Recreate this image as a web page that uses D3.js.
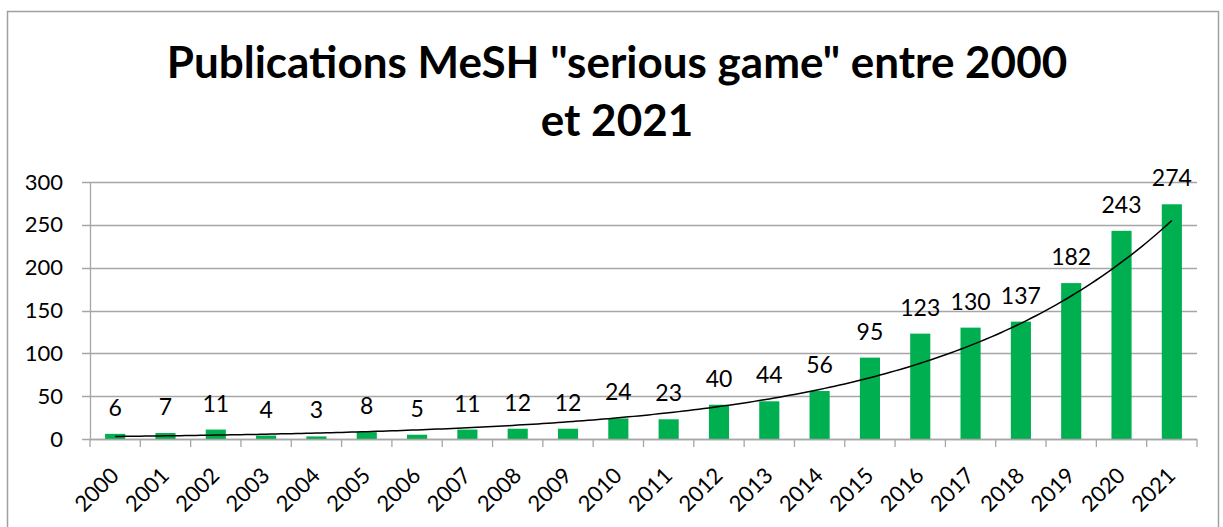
<!DOCTYPE html>
<html>
<head>
<meta charset="utf-8">
<script src="https://cdn.jsdelivr.net/npm/d3@7"></script>
<style>
  body { margin: 0; background: #fff; }
  text { font-family: Lato, "Open Sans", sans-serif; }
</style>
</head>
<body>
<div id="chart"></div>
<script>
// Data
var years = ["2000", "2001", "2002", "2003", "2004", "2005", "2006", "2007", "2008", "2009", "2010",
  "2011", "2012", "2013", "2014", "2015", "2016", "2017", "2018", "2019", "2020", "2021"];
var publications = [6, 7, 11, 4, 3, 8, 5, 11, 12, 12, 24, 23, 40, 44, 56, 95, 123, 130, 137, 182, 243, 274];
var yTicks = [0, 50, 100, 150, 200, 250, 300];
var titleLines = ["Publications MeSH \"serious game\" entre 2000", "et 2021"];

var W = 1223, H = 527;
var margin = { top: 182, right: 26, bottom: 88, left: 90 };
var width = W - margin.left - margin.right;
var height = H - margin.top - margin.bottom;

var svg = d3.select("#chart").append("svg")
  .attr("width", W)
  .attr("height", H);

// chart frame
svg.append("rect")
  .attr("x", 7.5).attr("y", 11.5)
  .attr("width", 1211).attr("height", 540)
  .attr("fill", "none")
  .attr("stroke", "#a0a0a0")
  .attr("stroke-width", 1.5);

// title
svg.append("text")
  .attr("text-anchor", "middle")
  .style("font-weight", "bold")
  .style("font-size", "44px")
  .selectAll("tspan")
  .data(titleLines)
  .enter()
  .append("tspan")
  .attr("x", 617)
  .attr("y", function (d, i) { return 78 + i * 58; })
  .text(function (d) { return d; });

var g = svg.append("g")
  .attr("transform", "translate(" + margin.left + "," + margin.top + ")");

var x = d3.scaleBand().domain(years).range([0, width]).paddingInner(0.6).paddingOuter(0.3);
var xb = d3.scaleBand().domain(years).range([0, width]);
var y = d3.scaleLinear().domain([0, 300]).range([height, 0]);

// gridlines
g.append("g")
  .selectAll("line")
  .data(yTicks)
  .enter()
  .append("line")
  .attr("x1", -8)
  .attr("x2", width)
  .attr("y1", function (d) { return Math.round(y(d)) + 0.5; })
  .attr("y2", function (d) { return Math.round(y(d)) + 0.5; })
  .attr("stroke", "#a6a6a6")
  .attr("stroke-width", 1.3);

// y axis
var yAxis = g.append("g")
  .call(d3.axisLeft(y).tickValues(yTicks).tickSize(0).tickPadding(27));
yAxis.select(".domain").attr("stroke", "#a6a6a6").attr("stroke-width", 1.3);
yAxis.selectAll("text")
  .style("font-size", "22px")
  .style("font-family", "Lato, 'Open Sans', sans-serif")
  .attr("fill", "#000");

// bars
g.selectAll(".bar")
  .data(publications)
  .enter()
  .append("rect")
  .attr("class", "bar")
  .attr("x", function (d, i) { return x(years[i]); })
  .attr("width", x.bandwidth())
  .attr("y", function (d) { return y(d); })
  .attr("height", function (d) { return height - y(d); })
  .attr("fill", "#00b050");

// x axis with ticks at category boundaries
var xAxisG = g.append("g").attr("transform", "translate(0," + height + ")");
xAxisG.append("line")
  .attr("x1", 0).attr("x2", width)
  .attr("y1", 0.5).attr("y2", 0.5)
  .attr("stroke", "#a6a6a6").attr("stroke-width", 1.3);
xAxisG.selectAll(".tick")
  .data(years.concat(["end"]))
  .enter()
  .append("line")
  .attr("x1", function (d, i) { return i < years.length ? xb(d) : width; })
  .attr("x2", function (d, i) { return i < years.length ? xb(d) : width; })
  .attr("y1", 0).attr("y2", 8)
  .attr("stroke", "#a6a6a6").attr("stroke-width", 1.3);
xAxisG.selectAll(".xlabel")
  .data(years)
  .enter()
  .append("text")
  .attr("class", "xlabel")
  .attr("text-anchor", "end")
  .attr("transform", function (d) {
    return "translate(" + (xb(d) + xb.bandwidth() / 2 + 5) + ",38) rotate(-45)";
  })
  .style("font-size", "22px")
  .text(function (d) { return d; });

// value labels
g.selectAll(".vlabel")
  .data(publications)
  .enter()
  .append("text")
  .attr("class", "vlabel")
  .attr("text-anchor", "middle")
  .attr("x", function (d, i) { return x(years[i]) + x.bandwidth() / 2; })
  .attr("y", function (d) { return y(d) - 18; })
  .style("font-size", "23px")
  .text(function (d) { return d; });

// exponential trendline (least squares on log values, as Excel does)
var n = publications.length;
var xs = d3.range(n);
var ly = publications.map(function (v) { return Math.log(v); });
var mx = d3.mean(xs), my = d3.mean(ly);
var b = d3.sum(xs, function (xi, i) { return (xi - mx) * (ly[i] - my); }) /
  d3.sum(xs, function (xi) { return (xi - mx) * (xi - mx); });
var a = my - b * mx;
var trend = d3.range(0, n - 1 + 0.001, 0.1).map(function (t) {
  return { t: t, v: Math.exp(a + b * t) };
});
var tx = d3.scaleLinear().domain([0, n - 1])
  .range([xb(years[0]) + xb.bandwidth() / 2, xb(years[n - 1]) + xb.bandwidth() / 2]);
g.append("path")
  .datum(trend)
  .attr("fill", "none")
  .attr("stroke", "#000")
  .attr("stroke-width", 1.5)
  .attr("d", d3.line().x(function (d) { return tx(d.t); }).y(function (d) { return y(d.v); }));
</script>
</body>
</html>
